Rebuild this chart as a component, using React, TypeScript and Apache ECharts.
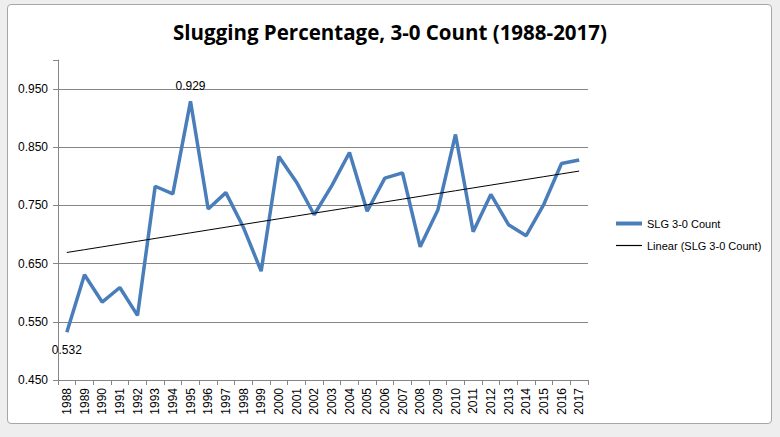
import React, { useEffect, useRef } from "react";
import * as echarts from "echarts";

const years = [
  "1988", "1989", "1990", "1991", "1992", "1993", "1994", "1995", "1996", "1997",
  "1998", "1999", "2000", "2001", "2002", "2003", "2004", "2005", "2006", "2007",
  "2008", "2009", "2010", "2011", "2012", "2013", "2014", "2015", "2016", "2017",
];
const slg = [
  0.532, 0.631, 0.584, 0.609, 0.561, 0.783, 0.770, 0.929, 0.744, 0.772,
  0.712, 0.637, 0.834, 0.790, 0.734, 0.784, 0.841, 0.740, 0.797, 0.806,
  0.679, 0.742, 0.872, 0.705, 0.769, 0.717, 0.698, 0.752, 0.822, 0.828,
];
const labeledTop = ["1995"];
const labeledBottom = ["1988"];
const seriesName = "SLG 3-0 Count";
const trendName = "Linear (SLG 3-0 Count)";
const titleText = "Slugging Percentage, 3-0 Count (1988-2017)";

function linearTrend(values: number[]): number[] {
  const n = values.length;
  const mx = (n - 1) / 2;
  const my = values.reduce((a, b) => a + b, 0) / n;
  let sxy = 0;
  let sxx = 0;
  values.forEach((v, i) => {
    sxy += (i - mx) * (v - my);
    sxx += (i - mx) * (i - mx);
  });
  const slope = sxy / sxx;
  return values.map((_, i) => my + slope * (i - mx));
}

const FONT = "'Liberation Sans', Arial, sans-serif";
const BLUE = "#4a7ebb";

export default function App() {
  const ref = useRef<HTMLDivElement>(null);
  useEffect(() => {
    if (!ref.current) return;
    const chart = echarts.init(ref.current, undefined, { renderer: "svg" });
    const trend = linearTrend(slg);
    const labelBase = {
      show: true,
      color: "#000",
      fontSize: 12,
      fontFamily: FONT,
      formatter: (p: any) => Number(p.value).toFixed(3),
    };
    const data = slg.map((v, i) => {
      const y = years[i];
      if (labeledTop.includes(y)) {
        return {
          value: v,
          symbol: "circle",
          symbolSize: 1,
          itemStyle: { color: "rgba(0,0,0,0)" },
          label: { ...labelBase, position: "top", distance: 9 },
        };
      }
      if (labeledBottom.includes(y)) {
        return {
          value: v,
          symbol: "circle",
          symbolSize: 1,
          itemStyle: { color: "rgba(0,0,0,0)" },
          label: { ...labelBase, position: "bottom", distance: 11 },
        };
      }
      return v;
    });
    chart.setOption({
      animation: false,
      backgroundColor: "transparent",
      textStyle: { fontFamily: FONT },
      title: {
        text: titleText,
        left: "center",
        top: 16,
        textStyle: {
          fontFamily: "'Open Sans', sans-serif",
          fontWeight: "bold",
          fontSize: 20.5,
          color: "#000",
        },
      },
      grid: { left: 58, right: 192, top: 60, bottom: 57, containLabel: false },
      legend: {
        orient: "vertical",
        left: 609,
        top: 213,
        itemWidth: 26,
        itemHeight: 10,
        itemGap: 11,
        itemStyle: { color: "rgba(0,0,0,0)", borderWidth: 0, borderColor: "rgba(0,0,0,0)" },
        textStyle: { fontFamily: FONT, fontSize: 11, color: "#000" },
        data: [
          { name: seriesName, lineStyle: { width: 4, color: BLUE } },
          { name: trendName, lineStyle: { width: 1.2, color: "#000" } },
        ],
      },
      xAxis: {
        type: "category",
        data: years,
        boundaryGap: true,
        axisLine: { lineStyle: { color: "#868686", width: 1 } },
        axisTick: { show: true, length: 5, inside: false, alignWithLabel: false, lineStyle: { color: "#868686" } },
        axisLabel: {
          rotate: 90,
          interval: 0,
          margin: 8,
          fontSize: 12,
          color: "#000",
          fontFamily: FONT,
        },
        splitLine: { show: false },
      },
      yAxis: {
        type: "value",
        min: 0.45,
        max: 1.0,
        interval: 0.1,
        axisLine: { show: true, lineStyle: { color: "#868686", width: 1 } },
        axisTick: { show: true, length: 5, lineStyle: { color: "#868686" } },
        axisLabel: {
          fontSize: 12,
          color: "#000",
          fontFamily: FONT,
          margin: 10,
          formatter: (v: number) => (v > 0.975 ? "" : v.toFixed(3)),
        },
        splitLine: {
          show: true,
          lineStyle: {
            color: ["#868686", "#868686", "#868686", "#868686", "#868686", "#868686", "rgba(0,0,0,0)"],
            width: 1,
          },
        },
      },
      series: [
        {
          name: seriesName,
          type: "line",
          data,
          symbol: "none",
          lineStyle: { color: BLUE, width: 3.5 },
          itemStyle: { color: BLUE },
          z: 3,
        },
        {
          name: trendName,
          type: "line",
          data: trend,
          symbol: "none",
          lineStyle: { color: "#000", width: 1 },
          itemStyle: { color: "#000" },
          z: 4,
        },
      ],
    });
    return () => chart.dispose();
  }, []);

  return (
    <div
      style={{
        position: "fixed",
        left: 0,
        top: 0,
        width: 780,
        height: 437,
        background: "#eeeeee",
        overflow: "hidden",
      }}
    >
      <div
        style={{
          position: "absolute",
          left: 7,
          top: 4,
          width: 765,
          height: 420,
          boxSizing: "border-box",
          background: "#ffffff",
          border: "1px solid #a6a6a6",
          borderRadius: 4,
        }}
      />
      <div ref={ref} style={{ position: "absolute", left: 0, top: 0, width: 780, height: 437 }} />
    </div>
  );
}
